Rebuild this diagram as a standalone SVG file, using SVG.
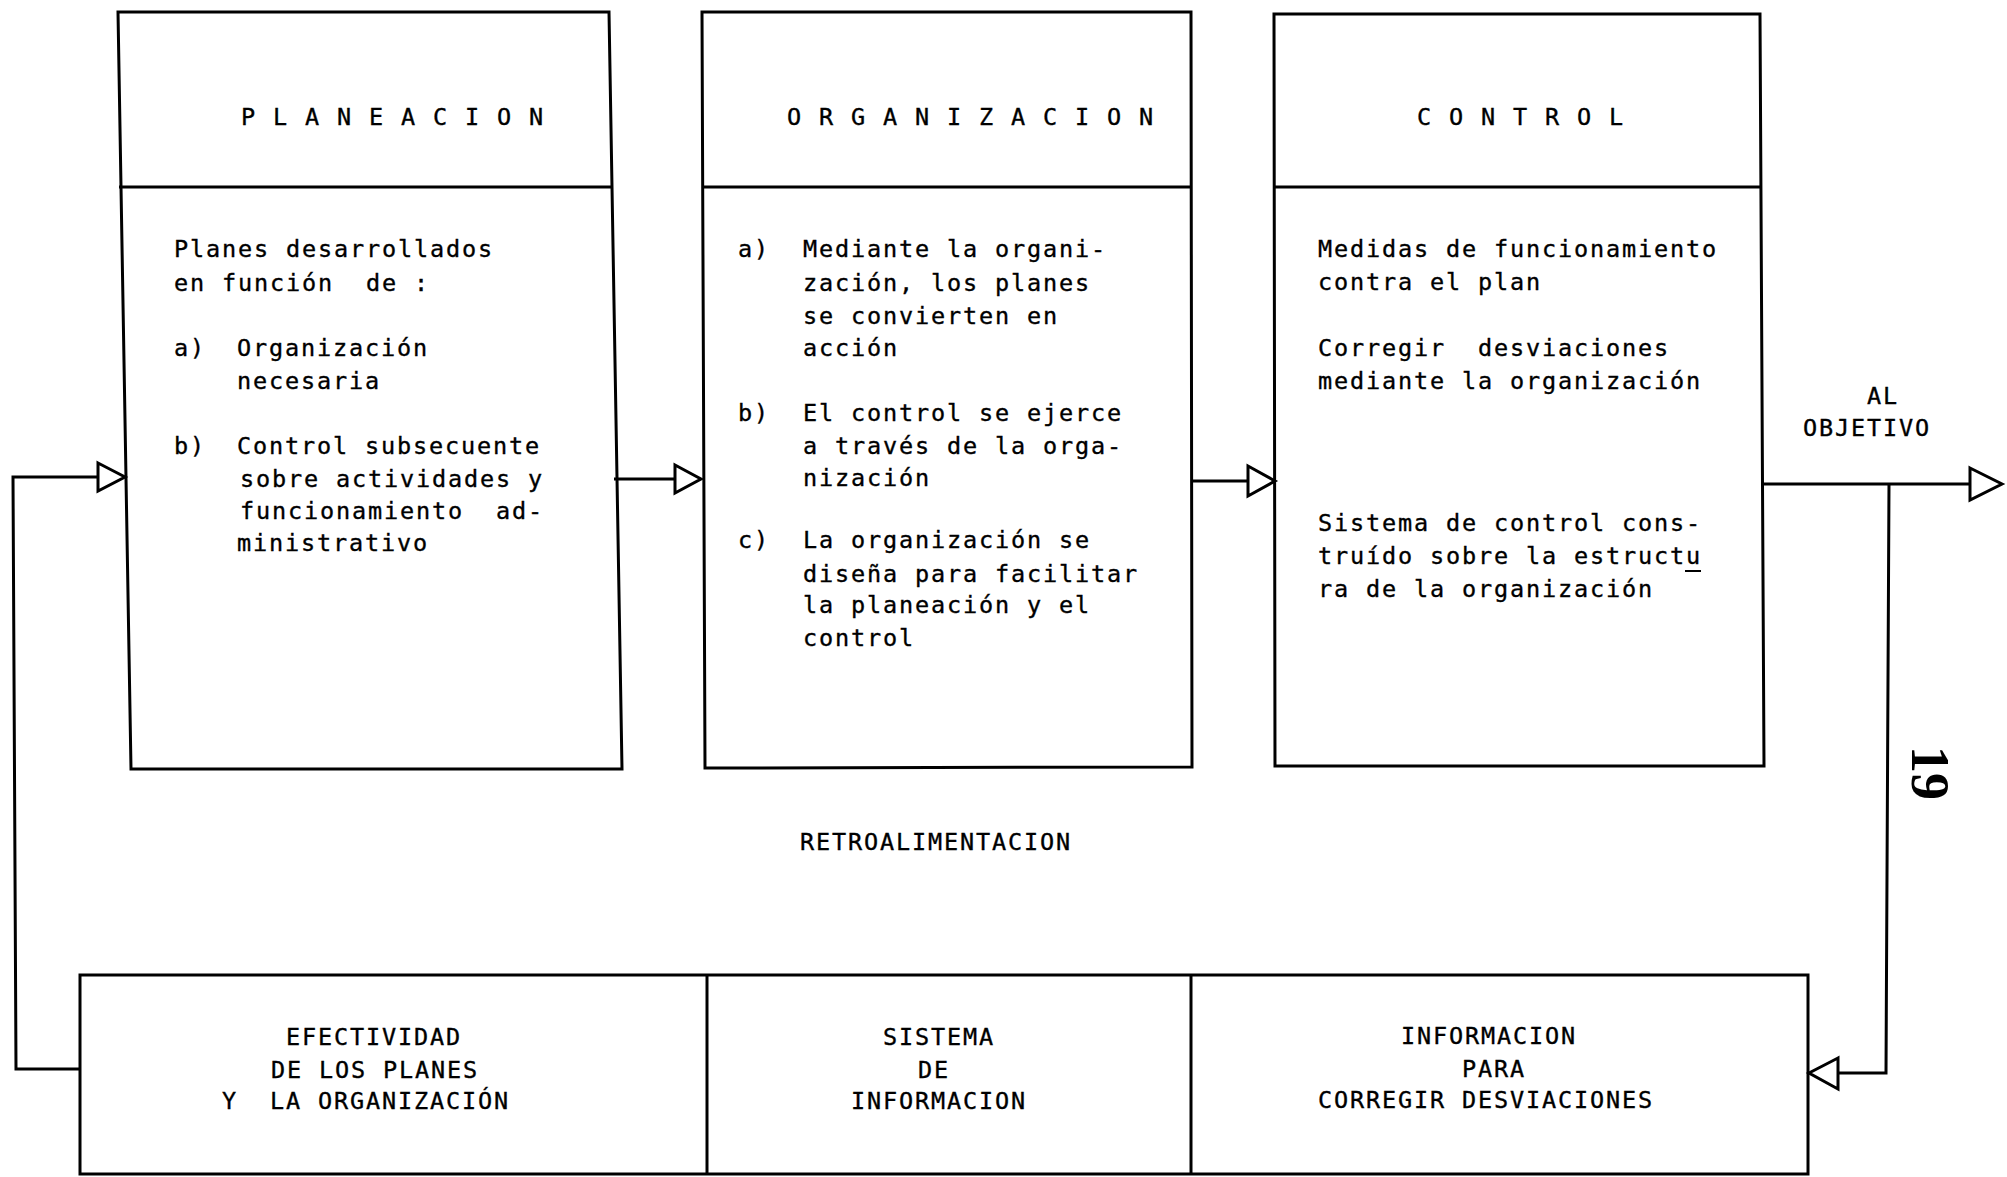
<svg xmlns="http://www.w3.org/2000/svg" width="2007" height="1177" viewBox="0 0 2007 1177">
<style>
.box{fill:none;stroke:#000;stroke-width:3;stroke-linejoin:miter}
.ln{fill:none;stroke:#000;stroke-width:3}
.ah{fill:#fff;stroke:#000;stroke-width:3;stroke-linejoin:miter}
text{font-family:"DejaVu Sans Mono","Liberation Mono",monospace;font-size:23.5px;letter-spacing:1.85px;fill:#000;stroke:#000;stroke-width:0.35}
.pg{font-family:"Liberation Serif","DejaVu Serif",serif;font-size:54px;font-weight:bold;letter-spacing:0;stroke:none}
</style>
<rect width="2007" height="1177" fill="#fff"/>

<g id="connectors">
  <polyline class="ln" points="80,1069 16,1069 13,477 98,477"/>
  <polygon class="ah" points="98,463 125,477 98,491"/>
  <line class="ln" x1="614" y1="479" x2="675" y2="479"/>
  <polygon class="ah" points="675,465 701,479 675,493"/>
  <line class="ln" x1="1192" y1="481" x2="1248" y2="481"/>
  <polygon class="ah" points="1248,466 1275,481 1248,496"/>
  <line class="ln" x1="1762" y1="484" x2="1970" y2="484"/>
  <polygon class="ah" points="1970,468 2002,484 1970,500"/>
  <polyline class="ln" points="1889,484 1886,1073 1838,1073"/>
  <polygon class="ah" points="1838,1058 1809,1073 1838,1089"/>
  <text x="800" y="850">RETROALIMENTACION</text>
  <text x="1867" y="404">AL</text>
  <text x="1803" y="436">OBJETIVO</text>
</g>

<g id="planeacion">
  <polygon class="box" points="118,12 609,12 622,769 131,769"/>
  <line class="ln" x1="119" y1="187" x2="612" y2="187"/>
  <text x="241" y="125">P L A N E A C I O N</text>
  <text x="174" y="257">Planes desarrollados</text>
  <text x="174" y="291">en función&#160; de :</text>
  <text x="174" y="356">a)</text>
  <text x="237" y="356">Organización</text>
  <text x="237" y="389">necesaria</text>
  <text x="174" y="454">b)</text>
  <text x="237" y="454">Control subsecuente</text>
  <text x="240" y="487">sobre actividades y</text>
  <text x="240" y="519">funcionamiento&#160; ad-</text>
  <text x="237" y="551">ministrativo</text>
</g>

<g id="organizacion">
  <polygon class="box" points="702,12 1191,12 1192,767 705,768"/>
  <line class="ln" x1="702" y1="187" x2="1191" y2="187"/>
  <text x="787" y="125">O R G A N I Z A C I O N</text>
  <text x="738" y="257">a)</text>
  <text x="803" y="257">Mediante la organi-</text>
  <text x="803" y="291">zación, los planes</text>
  <text x="803" y="324">se convierten en</text>
  <text x="803" y="356">acción</text>
  <text x="738" y="421">b)</text>
  <text x="803" y="421">El control se ejerce</text>
  <text x="803" y="454">a través de la orga-</text>
  <text x="803" y="486">nización</text>
  <text x="738" y="548">c)</text>
  <text x="803" y="548">La organización se</text>
  <text x="803" y="582">diseña para facilitar</text>
  <text x="803" y="613">la planeación y el</text>
  <text x="803" y="646">control</text>
</g>

<g id="control">
  <polygon class="box" points="1274,14 1760,14 1764,766 1275,766"/>
  <line class="ln" x1="1274" y1="187" x2="1761" y2="187"/>
  <text x="1417" y="125">C O N T R O L</text>
  <text x="1318" y="257">Medidas de funcionamiento</text>
  <text x="1318" y="290">contra el plan</text>
  <text x="1318" y="356">Corregir&#160; desviaciones</text>
  <text x="1318" y="389">mediante la organización</text>
  <text x="1318" y="531">Sistema de control cons-</text>
  <text x="1318" y="564">truído sobre la estructu</text>
  <line x1="1685" y1="571" x2="1701" y2="571" stroke="#000" stroke-width="2"/>
  <text x="1318" y="597">ra de la organización</text>
</g>

<g id="retroalimentacion">
  <rect class="box" x="80" y="975" width="1728" height="199"/>
  <line class="ln" x1="707" y1="975" x2="707" y2="1174"/>
  <line class="ln" x1="1191" y1="975" x2="1191" y2="1174"/>
  <g id="efectividad">
    <text x="286" y="1045">EFECTIVIDAD</text>
    <text x="271" y="1078">DE LOS PLANES</text>
    <text x="222" y="1109">Y&#160; LA ORGANIZACIÓN</text>
  </g>
  <g id="sistema">
    <text x="883" y="1045">SISTEMA</text>
    <text x="918" y="1078">DE</text>
    <text x="851" y="1109">INFORMACION</text>
  </g>
  <g id="informacion">
    <text x="1401" y="1044">INFORMACION</text>
    <text x="1462" y="1077">PARA</text>
    <text x="1318" y="1108">CORREGIR DESVIACIONES</text>
  </g>
</g>

<text class="pg" transform="translate(1912,773) rotate(90)" text-anchor="middle">19</text>
</svg>
